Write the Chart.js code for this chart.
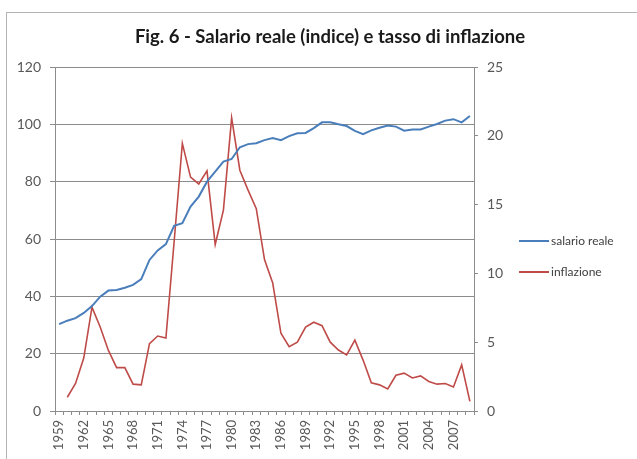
<!DOCTYPE html>
<html>
<head>
<meta charset="utf-8">
<script src="https://cdn.jsdelivr.net/npm/chart.js@4/dist/chart.umd.min.js"></script>
<style>
  html, body { margin: 0; padding: 0; background: #fff; }
  #wrap { position: relative; width: 637px; height: 459px; overflow: hidden; background: #fff; }
  #frame { position: absolute; left: 6px; top: 12px; width: 700px; height: 500px;
           border-top: 1.5px solid #b4b4b4; border-left: 1.5px solid #b4b4b4; }
  #title { position: absolute; left: 0; width: 660px; top: 25px; text-align: center;
           font: bold 18.5px Lato, "Open Sans", sans-serif; color: #1a1a1a; }
  canvas { position: absolute; left: 0; top: 0; }
  .leg { position: absolute; left: 519px; font: 12px Lato, sans-serif; color: #404040; white-space: nowrap; }
  .leg span.sw { display: inline-block; width: 30px; height: 2px; vertical-align: middle; margin-right: 2px; position: relative; top: -1px; }
</style>
</head>
<body>
<div id="wrap">
  <div id="frame"></div>
  <canvas id="c" width="637" height="459"></canvas>
  <div id="title">Fig. 6 - Salario reale (indice) e tasso di inflazione</div>
  <div class="leg" style="top:233px"><span class="sw" style="background:#4A7EBB"></span>salario reale</div>
  <div class="leg" style="top:264px"><span class="sw" style="background:#BE4B48"></span>inflazione</div>
</div>
<script>
const years = ["1959","1960","1961","1962","1963","1964","1965","1966","1967","1968",
  "1969","1970","1971","1972","1973","1974","1975","1976","1977","1978",
  "1979","1980","1981","1982","1983","1984","1985","1986","1987","1988",
  "1989","1990","1991","1992","1993","1994","1995","1996","1997","1998",
  "1999","2000","2001","2002","2003","2004","2005","2006","2007","2008","2009"];

const salarioReale = [30.3,31.5,32.4,34.2,36.6,39.9,42.0,42.2,43.0,44.0,
  46.0,52.7,56.0,58.2,64.6,65.5,71.3,74.8,80.0,83.5,
  87.0,87.9,92.0,93.1,93.4,94.5,95.2,94.5,95.9,96.9,
  97.0,98.7,100.7,100.7,100.0,99.4,97.7,96.6,97.9,98.8,
  99.6,99.2,97.8,98.2,98.2,99.2,100.1,101.3,101.8,100.7,102.9];

const inflazione = [null,1.0,2.0,3.85,7.55,6.1,4.4,3.15,3.15,1.95,
  1.9,4.9,5.45,5.3,12.3,19.45,17.0,16.5,17.45,12.1,
  14.6,21.3,17.5,16.05,14.7,11.0,9.3,5.65,4.67,5.0,
  6.1,6.45,6.2,5.0,4.43,4.07,5.15,3.7,2.05,1.9,
  1.6,2.6,2.75,2.4,2.55,2.15,1.95,2.0,1.75,3.35,0.7];

const leftTicks = [0,20,40,60,80,100,120];
const rightTicks = [0,5,10,15,20,25];

const axisGrey = '#8c8c8c';
const tickFont = { family: 'Lato, "Open Sans", sans-serif', size: 14 };

new Chart(document.getElementById('c'), {
  type: 'line',
  data: {
    labels: years,
    datasets: [
      { label: 'salario reale', data: salarioReale, yAxisID: 'y', borderColor: '#4A7EBB',
        borderWidth: 2, pointRadius: 0, tension: 0, fill: false },
      { label: 'inflazione', data: inflazione, yAxisID: 'y1', borderColor: '#BE4B48',
        borderWidth: 1.6, pointRadius: 0, tension: 0, fill: false }
    ]
  },
  options: {
    responsive: false,
    animation: false,
    devicePixelRatio: 1,
    layout: { padding: { top: 67, left: 0, right: 0, bottom: 0 } },
    plugins: { legend: { display: false }, tooltip: { enabled: false }, title: { display: false } },
    scales: {
      x: {
        type: 'category',
        offset: true,
        grid: { display: true, drawOnChartArea: false, drawTicks: true, tickLength: 4,
                offset: true, color: axisGrey },
        border: { display: true, color: axisGrey, width: 1 },
        ticks: {
          autoSkip: false, minRotation: 90, maxRotation: 90, padding: 5,
          color: '#595959', font: { family: tickFont.family, size: 13 },
          callback: function(v, i) { return (i % 3 === 0) ? years[i] : ''; }
        },
        afterFit: function(s) { s.height = 48; }
      },
      y: {
        position: 'left', min: 0, max: 120,
        afterBuildTicks: function(s) { s.ticks = leftTicks.map(v => ({ value: v })); },
        grid: { color: axisGrey, lineWidth: 1, drawTicks: true, tickLength: 5 },
        border: { display: true, color: axisGrey, width: 1 },
        ticks: { color: '#595959', font: tickFont, padding: 9 },
        afterFit: function(s) { s.width = 55; }
      },
      y1: {
        position: 'right', min: 0, max: 25,
        afterBuildTicks: function(s) { s.ticks = rightTicks.map(v => ({ value: v })); },
        grid: { display: true, drawOnChartArea: false, drawTicks: true, tickLength: 4, color: axisGrey },
        border: { display: true, color: axisGrey, width: 1 },
        ticks: { color: '#595959', font: tickFont, padding: 9 },
        afterFit: function(s) { s.width = 163; }
      }
    }
  }
});
</script>
</body>
</html>
